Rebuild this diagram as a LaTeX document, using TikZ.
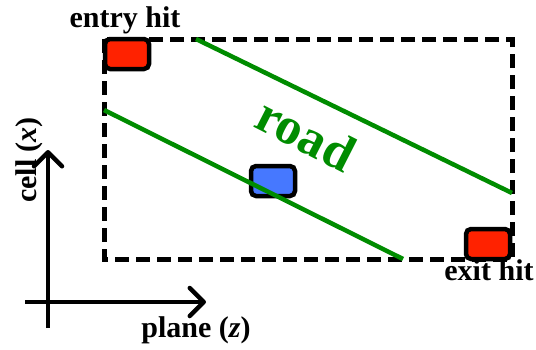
\documentclass[tikz,border=0pt]{standalone}
\usepackage{fontspec}
\setmainfont{Liberation Serif}
\usetikzlibrary{arrows.meta}
\definecolor{hitred}{RGB}{255,34,0}
\definecolor{cellblue}{RGB}{70,120,255}
\definecolor{roadgreen}{RGB}{0,140,0}
\begin{document}
\begin{tikzpicture}[x=1pt,y=-1pt,
  hitbox/.style={draw=black,line width=4.5pt,rounded corners=5pt,minimum width=44pt,minimum height=30pt,inner sep=0pt},
  roadline/.style={draw=roadgreen,line width=4.5pt},
  axis/.style={line width=4.5pt,-{Straight Barb[length=14pt,width=28pt,line join=round,line cap=round]}},
  lbl/.style={font=\bfseries\fontsize{30}{32}\selectfont,inner sep=0pt}]
\useasboundingbox (0,0) rectangle (536,349);
% area
\coordinate (tl) at (104,39);
\coordinate (br) at (512,259);
\draw[line width=5pt,dash pattern=on 14pt off 7pt] (tl) rectangle (br);
% road
\coordinate (r1a) at (196,39);
\coordinate (r1b) at (512,193);
\coordinate (r2a) at (104,110);
\coordinate (r2b) at (403,259);
\draw[roadline] (r1a) -- (r1b);
% boxes
\node[hitbox,fill=hitred] (entry) at (127,54) {};
\node[hitbox,fill=hitred] (exit) at (488,244) {};
\node[hitbox,fill=cellblue] (cell) at (273,181) {};
\draw[roadline] (r2a) -- (r2b);
% labels
\node[lbl,anchor=base] (entrylbl) at (125,27) {entry hit};
\node[lbl,anchor=base] (exitlbl) at (489,280) {exit hit};
\node[lbl,anchor=base,text=roadgreen,font=\bfseries\fontsize{52}{54}\selectfont,rotate=-27] (roadlbl) at (298,150) {road};
% axes
\coordinate (o) at (48,302);
\coordinate (vb) at (48,328);
\coordinate (vt) at (48,150);
\coordinate (hl) at (25,302);
\coordinate (hr) at (206,302);
\draw[axis] (vb) -- (vt);
\draw[axis] (hl) -- (hr);
\node[lbl,anchor=base,rotate=90] (celllbl) at (36,160) {cell (\textit{x})};
\node[lbl,anchor=base] (planelbl) at (196,337) {plane (\textit{z})};
\end{tikzpicture}
\end{document}
